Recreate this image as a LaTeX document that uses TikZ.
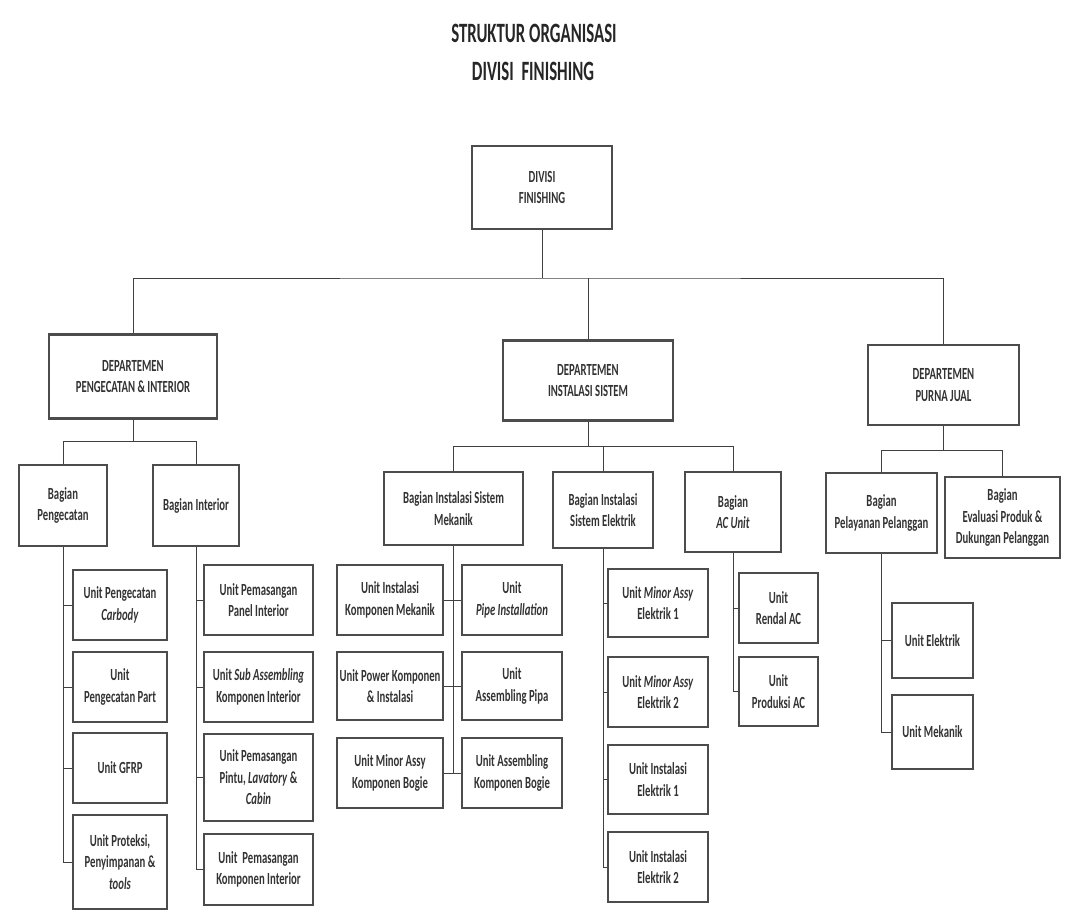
\documentclass[tikz,border=0pt]{standalone}
\usepackage{fontspec}
\setmainfont{Carlito}
\newfontfamily\boxfont[FakeStretch=0.63]{Carlito}
\newfontfamily\headfont[FakeStretch=0.6]{Carlito}
\begin{document}
\begin{tikzpicture}[x=1pt, y=-1pt]
        \tikzstyle{box}=[draw=black!70, line width=2.6pt, inner sep=0pt, align=center, text=black!80, font=\boxfont\bfseries\fontsize{17}{21.5}\selectfont]
        \tikzstyle{link}=[draw=black!75, line width=1pt]
        \tikzstyle{heading}=[anchor=base, inner sep=0pt, text=black!85, font=\headfont\bfseries\fontsize{28}{38}\selectfont]
        % \draw (0, 0) grid[step=100] (1065, 922);
        \useasboundingbox (0, 0) rectangle (1065, 922);

        \node[heading] (title1) at (534, 42) {STRUKTUR ORGANISASI};
        \node[heading] (title2) at (533, 80) {DIVISI~~FINISHING};

        % divisi and departemen
        \node[box, minimum width=140pt, minimum height=83pt] (div) at (542, 187.5) {DIVISI\\FINISHING};
        \node[box, minimum width=168pt, minimum height=84pt] (d1) at (133, 376.5) {DEPARTEMEN\\PENGECATAN \& INTERIOR};
        \node[box, minimum width=170pt, minimum height=80pt] (d2) at (588, 380.5) {DEPARTEMEN\\INSTALASI SISTEM};
        \node[box, minimum width=151pt, minimum height=80pt] (d3) at (943.5, 385) {DEPARTEMEN\\PURNA JUAL};

        % bagian
        \node[box, minimum width=88pt, minimum height=81pt] (pg) at (63, 505.5) {Bagian\\Pengecatan};
        \node[box, minimum width=86pt, minimum height=81pt] (in) at (196, 505.5) {Bagian Interior};
        \node[box, minimum width=139pt, minimum height=73pt] (mk) at (453.5, 508.5) {Bagian Instalasi Sistem\\Mekanik};
        \node[box, minimum width=100pt, minimum height=76pt] (el) at (603, 510) {Bagian Instalasi\\Sistem Elektrik};
        \node[box, minimum width=96pt, minimum height=80pt] (ac) at (733, 512) {Bagian\\\textit{AC Unit}};
        \node[box, minimum width=111pt, minimum height=80pt] (pl) at (881.5, 513) {Bagian\\Pelayanan Pelanggan};
        \node[box, minimum width=115pt, minimum height=81pt] (ev) at (1002.5, 517.5) {Bagian\\Evaluasi Produk \&\\Dukungan Pelanggan};

        % unit pengecatan & interior
        \node[box, minimum width=94pt, minimum height=70pt] (pg1) at (120, 605) {Unit Pengecatan\\\textit{Carbody}};
        \node[box, minimum width=94pt, minimum height=70pt] (pg2) at (120, 687) {Unit\\Pengecatan Part};
        \node[box, minimum width=94pt, minimum height=70pt] (pg3) at (120, 768) {Unit GFRP};
        \node[box, minimum width=94pt, minimum height=94pt] (pg4) at (120, 862) {Unit Proteksi,\\Penyimpanan \&\\\textit{tools}};
        \node[box, minimum width=109pt, minimum height=70pt] (in1) at (258.5, 600) {Unit Pemasangan\\Panel Interior};
        \node[box, minimum width=109pt, minimum height=70pt] (in2) at (258.5, 687) {Unit \textit{Sub Assembling}\\Komponen Interior};
        \node[box, minimum width=109pt, minimum height=87pt] (in3) at (258.5, 777.5) {Unit Pemasangan\\Pintu, \textit{Lavatory} \&\\\textit{Cabin}};
        \node[box, minimum width=109pt, minimum height=71pt] (in4) at (258.5, 869.5) {Unit~ Pemasangan\\Komponen Interior};

        % unit instalasi sistem
        \node[box, minimum width=106pt, minimum height=70pt] (mkl1) at (390, 600) {Unit Instalasi\\Komponen Mekanik};
        \node[box, minimum width=100pt, minimum height=70pt] (mkr1) at (512, 600) {Unit\\\textit{Pipe Installation}};
        \node[box, minimum width=106pt, minimum height=68pt] (mkl2) at (390, 686) {Unit Power Komponen\\\& Instalasi};
        \node[box, minimum width=100pt, minimum height=68pt] (mkr2) at (512, 686) {Unit\\Assembling Pipa};
        \node[box, minimum width=106pt, minimum height=70pt] (mkl3) at (390, 773) {Unit Minor Assy\\Komponen Bogie};
        \node[box, minimum width=100pt, minimum height=70pt] (mkr3) at (512, 773) {Unit Assembling\\Komponen Bogie};
        \node[box, minimum width=100pt, minimum height=68pt] (el1) at (658, 603) {Unit \textit{Minor Assy}\\Elektrik 1};
        \node[box, minimum width=100pt, minimum height=70pt] (el2) at (658, 692) {Unit \textit{Minor Assy}\\Elektrik 2};
        \node[box, minimum width=100pt, minimum height=69pt] (el3) at (658, 779.5) {Unit Instalasi\\Elektrik 1};
        \node[box, minimum width=100pt, minimum height=70pt] (el4) at (658, 867) {Unit Instalasi\\Elektrik 2};
        \node[box, minimum width=79pt, minimum height=70pt] (ac1) at (778.5, 608) {Unit\\Rendal AC};
        \node[box, minimum width=79pt, minimum height=69pt] (ac2) at (778.5, 691.5) {Unit\\Produksi AC};

        % unit purna jual
        \node[box, minimum width=81pt, minimum height=75pt] (pl1) at (932.5, 640.5) {Unit Elektrik};
        \node[box, minimum width=81pt, minimum height=74pt] (pl2) at (932.5, 732) {Unit Mekanik};

        \coordinate (bus) at (542, 278);
        \coordinate (bus1) at (133, 441);
        \coordinate (bus2) at (588, 446);
        \coordinate (bus3) at (943.5, 450);

        \draw[link] (div.south) -- (bus);
        \draw[link] (d1.north) |- (bus) -| (d3.north);
        \draw[link] (d2.north) -- (d2.north |- bus);

        \draw[link] (d1.south) -- (bus1);
        \draw[link] (pg.north) |- (bus1) -| (in.north);
        \draw[link] (d2.south) -- (bus2);
        \draw[link] (mk.north) |- (bus2) -| (ac.north);
        \draw[link] (el.north) -- (el.north |- bus2);
        \draw[link] (d3.south) -- (bus3);
        \draw[link] (pl.north) |- (bus3) -| (ev.north);

        \foreach \u in {pg1, pg2, pg3, pg4} \draw[link] (pg.south) |- (\u.west);
        \foreach \u in {in1, in2, in3, in4} \draw[link] (in.south) |- (\u.west);
        \draw[link] (mk.south) -- (mk.south |- mkl3.east);
        \foreach \r in {1, 2, 3} \draw[link] (mkl\r.east) -- (mkr\r.west);
        \foreach \u in {el1, el2, el3, el4} \draw[link] (el.south) |- (\u.west);
        \foreach \u in {ac1, ac2} \draw[link] (ac.south) |- (\u.west);
        \foreach \u in {pl1, pl2} \draw[link] (pl.south) |- (\u.west);

    \end{tikzpicture}
\end{document}
